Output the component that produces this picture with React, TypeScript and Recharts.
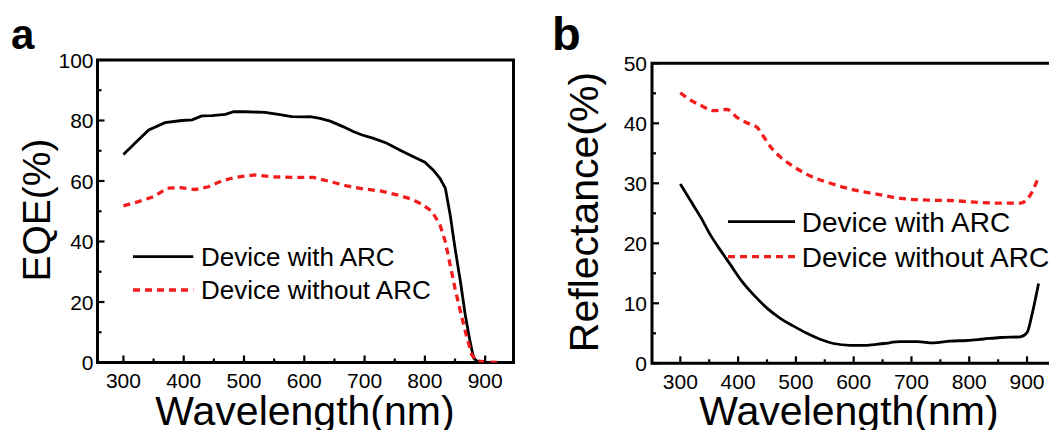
import React from 'react';
import { LineChart, Line, XAxis, YAxis, ReferenceArea, Legend } from 'recharts';

const FONT = '"Liberation Sans", Arial, Helvetica, sans-serif';
const RED = '#f21c1c';

// ---------- Panel a : EQE ----------
const seriesNames = ['Device with ARC', 'Device without ARC'];

const eqeWithArcWl = [300, 319, 342, 369, 397, 414, 430, 447, 469, 483, 502, 535, 557, 579, 601, 610, 626, 643, 665, 682, 696, 715, 737, 759, 781, 800, 814, 825, 834, 842, 850, 859, 867, 875, 881, 886, 894];
const eqeWithArc = [68.8, 72.5, 76.9, 79.3, 80.0, 80.2, 81.5, 81.6, 82.0, 82.9, 82.9, 82.7, 82.0, 81.3, 81.2, 81.3, 80.7, 79.8, 77.9, 76.3, 75.2, 74.1, 72.5, 70.2, 68.0, 66.2, 63.6, 60.9, 57.6, 48.8, 37.8, 26.7, 15.7, 6.9, 1.4, 0.5, 0.2];

const eqeNoArcWl = [300, 325, 350, 372, 394, 419, 441, 463, 485, 518, 546, 585, 615, 643, 670, 698, 726, 754, 778, 795, 812, 825, 834, 842, 850, 859, 870, 878, 886, 903, 920];
const eqeNoArc = [51.8, 53.2, 54.8, 57.6, 57.8, 57.2, 58.1, 60.0, 61.2, 62.0, 61.4, 61.2, 61.2, 59.8, 58.4, 57.4, 56.7, 55.4, 54.0, 52.3, 49.9, 45.5, 39.9, 32.2, 24.5, 16.8, 8.0, 2.5, 0.5, 0.2, 0];

// ---------- Panel b : Reflectance ----------
const refWithArcWl = [300, 317, 335, 352, 369, 387, 404, 427, 450, 473, 496, 519, 542, 565, 594, 623, 652, 681, 710, 738, 767, 796, 825, 854, 888, 900, 909, 920];
const refWithArc = [29.9, 27.2, 24.4, 21.4, 18.9, 16.4, 14.0, 11.4, 9.2, 7.5, 6.2, 5.0, 4.0, 3.3, 3.0, 3.0, 3.3, 3.6, 3.6, 3.4, 3.7, 3.8, 4.05, 4.3, 4.4, 5.1, 8.3, 13.3];

const refNoArcWl = [300, 317, 335, 358, 381, 398, 415, 433, 444, 456, 473, 496, 525, 560, 600, 640, 681, 727, 773, 819, 854, 888, 900, 912, 920];
const refNoArc = [45.1, 43.9, 43.0, 42.1, 42.3, 41.0, 40.1, 39.3, 37.8, 36.1, 34.4, 32.8, 31.2, 30.0, 28.9, 28.2, 27.5, 27.2, 27.1, 26.8, 26.7, 26.7, 27.3, 29.2, 31.1];

// ---------- Ticks ----------
const xMajor = [300, 400, 500, 600, 700, 800, 900];
const xMinor = [350, 450, 550, 650, 750, 850];
const yMajorA = [0, 20, 40, 60, 80, 100];
const yMinorA = [10, 30, 50, 70, 90];
const yMajorB = [0, 10, 20, 30, 40, 50];
const yMinorB = [5, 15, 25, 35, 45];

const toPts = (w: number[], v: number[]) => w.map((x, i) => ({ w: x, v: v[i] }));

const TICK_FS = 21;

const makeXTick = (major: number[], labelDy: number) => (props: any) => {
  const { x, y, payload } = props;
  const isMajor = major.includes(payload.value);
  return (
    <g>
      <line x1={x} x2={x} y1={y} y2={y - (isMajor ? 7 : 4)} stroke="#000" strokeWidth={2.2} />
      {isMajor && (
        <text x={x} y={y + labelDy} textAnchor="middle" fontSize={TICK_FS} fontFamily={FONT} fill="#000">
          {payload.value}
        </text>
      )}
    </g>
  );
};

const makeYTick = (major: number[], gap: number) => (props: any) => {
  const { x, y, payload } = props;
  const isMajor = major.includes(payload.value);
  return (
    <g>
      <line x1={x} x2={x + (isMajor ? 7 : 4)} y1={y} y2={y} stroke="#000" strokeWidth={2.2} />
      {isMajor && (
        <text x={x - gap} y={y + 7.5} textAnchor="end" fontSize={TICK_FS} fontFamily={FONT} fill="#000">
          {payload.value}
        </text>
      )}
    </g>
  );
};

const makeLegend = (fontSize: number, rows: number[], lineX2: number, textX: number) => () => (
  <svg width={360} height={75} style={{ overflow: 'visible', display: 'block' }}>
    <line x1={3} x2={lineX2} y1={rows[0]} y2={rows[0]} stroke="#000" strokeWidth={2.8} />
    <text x={textX} y={rows[0] + fontSize * 0.36} fontSize={fontSize} fontFamily={FONT} fill="#000">
      {seriesNames[0]}
    </text>
    <line x1={3} x2={lineX2} y1={rows[1]} y2={rows[1]} stroke={RED} strokeWidth={3.3} strokeDasharray="7 5" />
    <text x={textX} y={rows[1] + fontSize * 0.36} fontSize={fontSize} fontFamily={FONT} fill="#000">
      {seriesNames[1]}
    </text>
  </svg>
);

const xDomA: [number, number] = [257, 947];
const xDomB: [number, number] = [251, 951];

export default function App() {
  return (
    <div style={{ position: 'absolute', left: 0, top: 0, width: 1049, height: 430, overflow: 'hidden', background: '#fff' }}>
      {/* Panel a */}
      <div style={{ position: 'absolute', left: 0, top: 0 }}>
        <LineChart width={530} height={430} margin={{ top: 60, left: 96.5, right: 16.5, bottom: 66.5 }}>
          <XAxis
            dataKey="w"
            type="number"
            domain={xDomA}
            allowDataOverflow
            ticks={[...xMajor, ...xMinor].sort((a, b) => a - b)}
            interval={0}
            height={1}
            tickSize={0}
            tickMargin={0}
            axisLine={false}
            tickLine={false}
            tick={makeXTick(xMajor, 25.5)}
          />
          <YAxis
            type="number"
            domain={[0, 100]}
            allowDataOverflow
            ticks={[...yMajorA, ...yMinorA].sort((a, b) => a - b)}
            interval={0}
            width={1}
            tickSize={0}
            tickMargin={0}
            axisLine={false}
            tickLine={false}
            tick={makeYTick(yMajorA, 4)}
          />
          <ReferenceArea x1={xDomA[0]} x2={xDomA[1]} y1={0} y2={100} fill="none" fillOpacity={0} stroke="#000" strokeWidth={3} />
          <Line data={toPts(eqeWithArcWl, eqeWithArc)} dataKey="v" name={seriesNames[0]} type="linear" stroke="#000" strokeWidth={2.8} dot={false} isAnimationActive={false} />
          <Line data={toPts(eqeNoArcWl, eqeNoArc)} dataKey="v" name={seriesNames[1]} type="linear" stroke={RED} strokeWidth={3.3} strokeDasharray="7 5" dot={false} isAnimationActive={false} />
          <Legend
            layout="vertical"
            align="center"
            verticalAlign="middle"
            wrapperStyle={{ left: 130, top: 240, width: 360, height: 75 }}
            content={makeLegend(26, [16.7, 50], 63.3, 71)}
          />
        </LineChart>
      </div>

      {/* Panel b */}
      <div style={{ position: 'absolute', left: 530, top: 0 }}>
        <LineChart width={570} height={430} margin={{ top: 63.3, left: 121, right: 43.5, bottom: 65.7 }}>
          <XAxis
            dataKey="w"
            type="number"
            domain={xDomB}
            allowDataOverflow
            ticks={[...xMajor, ...xMinor].sort((a, b) => a - b)}
            interval={0}
            height={1}
            tickSize={0}
            tickMargin={0}
            axisLine={false}
            tickLine={false}
            tick={makeXTick(xMajor, 25.5)}
          />
          <YAxis
            type="number"
            domain={[0, 50]}
            allowDataOverflow
            ticks={[...yMajorB, ...yMinorB].sort((a, b) => a - b)}
            interval={0}
            width={1}
            tickSize={0}
            tickMargin={0}
            axisLine={false}
            tickLine={false}
            tick={makeYTick(yMajorB, 5)}
          />
          <ReferenceArea x1={xDomB[0]} x2={xDomB[1]} y1={0} y2={50} fill="none" fillOpacity={0} stroke="#000" strokeWidth={3} />
          <Line data={toPts(refWithArcWl, refWithArc)} dataKey="v" name={seriesNames[0]} type="monotone" stroke="#000" strokeWidth={2.8} dot={false} isAnimationActive={false} />
          <Line data={toPts(refNoArcWl, refNoArc)} dataKey="v" name={seriesNames[1]} type="monotone" stroke={RED} strokeWidth={3.3} strokeDasharray="7 5" dot={false} isAnimationActive={false} />
          <Legend
            layout="vertical"
            align="center"
            verticalAlign="middle"
            wrapperStyle={{ left: 195, top: 205, width: 360, height: 75 }}
            content={makeLegend(28, [16.7, 51.7], 70, 76.7)}
          />
        </LineChart>
      </div>

      {/* Titles and panel letters */}
      <svg width={1049} height={430} style={{ position: 'absolute', left: 0, top: 0, pointerEvents: 'none' }}>
        <text x={11} y={49} fontSize={42} fontWeight="bold" fontFamily={FONT} fill="#000">a</text>
        <text x={552} y={50} fontSize={47} fontWeight="bold" fontFamily={FONT} fill="#000">b</text>
        <text x={305} y={425} textAnchor="middle" fontSize={41} fontFamily={FONT} fill="#000">Wavelength(nm)</text>
        <text x={849} y={425} textAnchor="middle" fontSize={41} fontFamily={FONT} fill="#000">Wavelength(nm)</text>
        <text x={50} y={210} textAnchor="middle" fontSize={39} fontFamily={FONT} fill="#000" transform="rotate(-90 50 210)">EQE(%)</text>
        <text x={598} y={212} textAnchor="middle" fontSize={41} fontFamily={FONT} fill="#000" transform="rotate(-90 598 212)">Reflectance(%)</text>
      </svg>
    </div>
  );
}
